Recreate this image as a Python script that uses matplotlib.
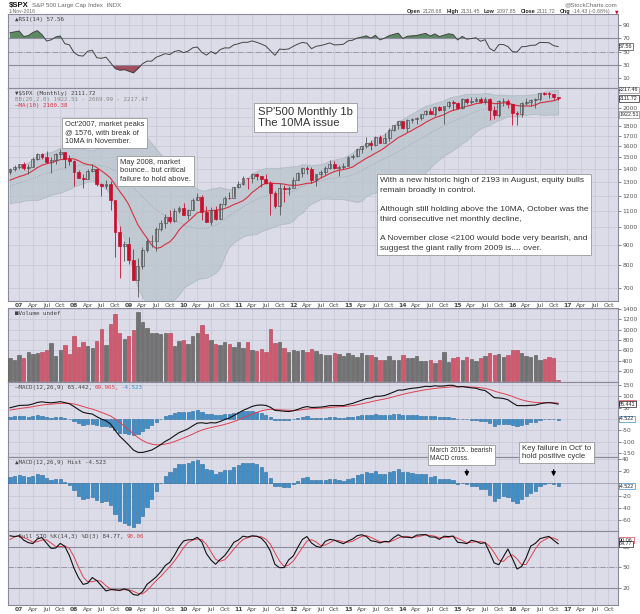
import numpy as np
import pandas as pd
import matplotlib
matplotlib.use('Agg')
from matplotlib import pyplot as plt
from matplotlib.ticker import NullLocator
from matplotlib.transforms import blended_transform_factory

# monthly S&P 500 closes, Jan 2004 .. Nov 2016 (2004-Oct 2006 only warm up the indicators)
closes = [
    1131.13, 1144.94, 1126.21, 1107.30, 1120.68, 1140.84, 1101.72, 1104.24, 1114.58, 1130.20, 1173.82, 1211.92,
    1181.27, 1203.60, 1180.59, 1156.85, 1191.50, 1191.33, 1234.18, 1220.33, 1228.81, 1207.01, 1249.48, 1248.29,
    1280.08, 1280.66, 1294.83, 1310.61, 1270.09, 1270.20, 1276.66, 1303.82, 1335.85, 1377.94, 1400.63, 1418.30,
    1438.24, 1406.82, 1420.86, 1482.37, 1530.62, 1503.35, 1455.27, 1473.99, 1526.75, 1549.38, 1481.14, 1468.36,
    1378.55, 1330.63, 1322.70, 1385.59, 1400.38, 1280.00, 1267.38, 1282.83, 1166.36, 968.75, 896.24, 903.25,
    825.88, 735.09, 797.87, 872.81, 919.14, 919.32, 987.48, 1020.62, 1057.08, 1036.19, 1095.63, 1115.10,
    1073.87, 1104.49, 1169.43, 1186.69, 1089.41, 1030.71, 1101.60, 1049.33, 1141.20, 1183.26, 1180.55, 1257.64,
    1286.12, 1327.22, 1325.83, 1363.61, 1345.20, 1320.64, 1292.28, 1218.89, 1131.42, 1253.30, 1246.96, 1257.60,
    1312.41, 1365.68, 1408.47, 1397.91, 1310.33, 1362.16, 1379.32, 1406.58, 1440.67, 1412.16, 1416.18, 1426.19,
    1498.11, 1514.68, 1569.19, 1597.57, 1630.74, 1606.28, 1685.73, 1632.97, 1681.55, 1756.54, 1805.81, 1848.36,
    1782.59, 1859.45, 1872.34, 1883.95, 1923.57, 1960.23, 1930.67, 2003.37, 1972.29, 2018.05, 2067.56, 2058.90,
    1994.99, 2104.50, 2067.89, 2085.51, 2107.39, 2063.11, 2103.84, 1972.18, 1920.03, 2079.36, 2080.41, 2043.94,
    1940.24, 1932.23, 2059.74, 2065.30, 2096.95, 2098.86, 2173.60, 2170.95, 2168.27, 2126.15, 2111.72,
]

# monthly highs / lows, Jan 2005 .. Nov 2016
highs = [
    1217.8, 1212.4, 1229.1, 1191.9, 1199.6, 1219.6, 1245.2, 1245.9, 1237.9, 1233.3, 1270.6, 1275.8,
    1294.9, 1297.6, 1310.9, 1318.2, 1326.7, 1284.0, 1280.4, 1306.7, 1340.3, 1389.5, 1407.9, 1431.8,
    1441.6, 1461.6, 1438.9, 1498.0, 1535.6, 1540.6, 1555.9, 1503.9, 1538.7, 1576.1, 1545.1, 1523.6,
    1471.8, 1396.0, 1359.7, 1397.0, 1440.2, 1404.1, 1292.2, 1313.2, 1303.0, 1167.0, 1007.5, 918.9,
    943.9, 877.9, 833.0, 888.7, 930.2, 956.2, 996.7, 1039.5, 1080.1, 1101.4, 1113.7, 1130.4,
    1150.5, 1112.4, 1180.7, 1219.8, 1205.1, 1131.2, 1120.0, 1129.2, 1148.9, 1196.1, 1227.1, 1262.6,
    1302.7, 1344.1, 1332.3, 1364.6, 1370.6, 1347.0, 1356.5, 1307.4, 1229.3, 1292.7, 1277.6, 1269.4,
    1333.5, 1378.0, 1419.2, 1422.4, 1415.3, 1363.5, 1391.7, 1426.7, 1474.5, 1471.0, 1434.3, 1448.0,
    1509.9, 1530.9, 1570.3, 1597.6, 1687.2, 1654.2, 1698.8, 1709.7, 1729.9, 1775.2, 1813.6, 1849.4,
    1850.8, 1867.9, 1884.0, 1897.3, 1924.0, 1968.2, 1991.4, 2005.0, 2019.3, 2018.2, 2075.8, 2093.6,
    2064.4, 2119.6, 2114.0, 2125.9, 2134.7, 2129.9, 2132.8, 2112.7, 2020.9, 2094.3, 2116.5, 2104.3,
    2038.2, 1963.0, 2072.2, 2111.1, 2103.5, 2120.6, 2177.1, 2193.8, 2187.9, 2169.6, 2131.45,
]
lows = [
    1163.8, 1180.5, 1176.9, 1136.2, 1146.2, 1188.3, 1183.6, 1201.1, 1201.1, 1168.2, 1201.1, 1246.6,
    1245.7, 1253.6, 1268.0, 1290.9, 1245.3, 1219.3, 1224.5, 1261.3, 1290.9, 1327.1, 1361.0, 1387.5,
    1404.0, 1389.4, 1364.0, 1416.4, 1476.7, 1484.2, 1454.3, 1370.6, 1439.3, 1489.6, 1406.1, 1435.7,
    1270.1, 1325.4, 1257.0, 1324.4, 1373.1, 1272.0, 1200.4, 1247.5, 1106.4, 839.8, 741.0, 818.4,
    804.3, 734.5, 666.8, 783.3, 866.1, 888.9, 869.3, 978.5, 992.3, 1020.2, 1029.4, 1085.9,
    1071.6, 1044.5, 1101.0, 1170.7, 1040.8, 1028.3, 1010.9, 1039.7, 1048.1, 1131.9, 1173.0, 1186.6,
    1257.6, 1275.9, 1249.1, 1294.7, 1311.8, 1258.1, 1282.9, 1074.8, 1114.2, 1074.8, 1158.7, 1202.4,
    1258.9, 1312.3, 1340.0, 1357.4, 1292.0, 1266.7, 1325.4, 1354.7, 1396.6, 1403.3, 1343.4, 1398.1,
    1426.2, 1485.0, 1501.5, 1536.0, 1581.3, 1560.3, 1604.6, 1627.5, 1633.4, 1646.5, 1746.2, 1768.0,
    1770.5, 1737.9, 1834.4, 1814.4, 1859.8, 1916.0, 1930.7, 1904.8, 1964.0, 1820.7, 2001.0, 1972.6,
    1988.1, 1980.9, 2039.7, 2048.4, 2067.9, 2056.3, 2044.0, 1867.0, 1871.9, 1893.7, 2019.4, 1993.3,
    1812.3, 1810.1, 1891.0, 2033.8, 2025.9, 1991.7, 2074.0, 2147.6, 2119.1, 2097.1, 2097.85,
]

# monthly volume, Nov 2006 .. Nov 2016
volumes = [
    450, 420, 515, 445, 565, 527, 546, 560, 603, 743, 483, 610, 711, 527, 876, 667, 756, 686, 654, 775,
    1003, 705, 1105, 1295, 927, 819, 876, 990, 1340, 1143, 1035, 927, 927, 920, 927, 927, 692, 781, 800, 730,
    876, 927, 1086, 914, 800, 730, 705, 756, 717, 673, 756, 654, 762, 610, 590, 622, 565, 1003, 749, 756,
    641, 560, 603, 590, 603, 560, 629, 590, 533, 502, 502, 546, 527, 483, 552, 508, 463, 546, 514, 508,
    463, 419, 419, 495, 406, 406, 508, 457, 457, 483, 387, 387, 419, 349, 413, 571, 368, 457, 463, 419,
    476, 438, 400, 451, 495, 546, 508, 533, 463, 514, 610, 603, 540, 483, 463, 508, 419, 432, 463, 445,
    20,
]

W, H = 640, 614
L, R = 8, 618
BG = '#dcdce8'
GRID = '#c6c6d6'
RED = '#c8102e'
DARK = '#555555'
XMIN, XMAX = -0.44, 133.1
MONTHS = {0: None, 3: 'Apr', 6: 'Jul', 9: 'Oct'}
SANS = ['Liberation Sans', 'DejaVu Sans']

c_all = pd.Series(closes, dtype=float)
h_all = pd.Series([np.nan] * 12 + highs, dtype=float)
l_all = pd.Series([np.nan] * 12 + lows, dtype=float)
o_all = c_all.shift(1)

# indicators
ma10 = c_all.rolling(10).mean()
bb_mid = c_all.rolling(20).mean()
bb_sd = c_all.rolling(20).std(ddof=0)
bb_up = bb_mid + 2 * bb_sd
bb_lo = bb_mid - 2 * bb_sd

delta = c_all.diff()
gain = delta.clip(lower=0).ewm(alpha=1 / 14, adjust=False).mean()
loss = (-delta.clip(upper=0)).ewm(alpha=1 / 14, adjust=False).mean()
rsi = 100 - 100 / (1 + gain / loss)

macd = c_all.ewm(span=12, adjust=False).mean() - c_all.ewm(span=26, adjust=False).mean()
signal = macd.ewm(span=9, adjust=False).mean()
hist = macd - signal

hh = h_all.rolling(14).max()
ll = l_all.rolling(14).min()
fast_k = 100 * (c_all - ll) / (hh - ll)
sto_k = fast_k.rolling(3).mean()
sto_d = sto_k.rolling(3).mean()

start = 34  # Nov 2006
def cut(s):
    return s.iloc[start:].to_numpy()

c, o, hi, lo = cut(c_all), cut(o_all), cut(h_all), cut(l_all)
x = np.arange(len(c))
vol = np.array(volumes, dtype=float)
down = c < o  # open is the prior close, so this is also "down on the month"
cols = np.where(down, RED, DARK)

qpos = [2 + k for k in range(0, 132, 3)]
qlab = [f"{7 + k // 12:02d}" if k % 12 == 0 else MONTHS[k % 12] for k in range(0, 132, 3)]

fig = plt.figure(figsize=(6.4, 6.14), dpi=100)
fig.canvas.draw()
renderer = fig.canvas.get_renderer()


def panel(top, bottom):
    ax = fig.add_axes([L / W, 1 - bottom / H, (R - L) / W, (bottom - top) / H])
    ax.set_facecolor(BG)
    ax.set_xlim(XMIN, XMAX)
    ax.set_xticks(qpos)
    ax.tick_params(axis='x', length=0, labelbottom=False)
    ax.yaxis.tick_right()
    ax.tick_params(axis='y', labelsize=4.3, colors='#555555', length=2, width=0.5, pad=1)
    ax.grid(True, color=GRID, lw=0.5)
    ax.set_axisbelow(True)
    for sp in ax.spines.values():
        sp.set_color('#8a8a9a')
        sp.set_linewidth(0.8)
    return ax


def set_yticks(ax, ticks, hidden=()):
    # labels sitting under a value box are left blank, as on the original
    ax.set_yticks(ticks)
    ax.set_yticklabels(['' if t in hidden else str(t) for t in ticks])


def date_labels(ax):
    ax.set_xticklabels(qlab)
    ax.tick_params(axis='x', labelbottom=True, labelsize=4.3, pad=1.2, colors='#444444')
    for t in ax.get_xticklabels():
        if t.get_text().isdigit():
            t.set_fontweight('bold')


def title(ax, parts, y=0.965):
    xx = 0.012
    for s, col in parts:
        t = ax.text(xx, y, s, transform=ax.transAxes, fontsize=4.2, color=col,
                    family=['DejaVu Sans Mono', 'DejaVu Sans'], va='top', ha='left')
        bb = t.get_window_extent(renderer).transformed(ax.transAxes.inverted())
        xx = bb.x1 + 0.004


def value_box(ax, y, s, ec):
    tr = blended_transform_factory(ax.transAxes, ax.transData)
    ax.text(1.002, y, s, transform=tr, fontsize=3.9, family=SANS, va='center', ha='left',
            color='#222222', bbox=dict(boxstyle='square,pad=0.12', fc='white', ec=ec, lw=0.5),
            clip_on=False, zorder=6)


# RSI
ax_rsi = panel(14, 88)
ax_rsi.set_ylim(-4.6, 106.5)
set_yticks(ax_rsi, [10, 30, 50, 70, 90])
r = cut(rsi)
ax_rsi.axhline(70, color='#8c8c9c', lw=0.8)
ax_rsi.axhline(30, color='#8c8c9c', lw=0.8)
ax_rsi.axhline(50, color='#8c8c9c', lw=0.6, ls='-.')
ax_rsi.fill_between(x, r, 70, where=r >= 70, interpolate=True, color='#5b8a62', lw=0)
ax_rsi.fill_between(x, r, 30, where=r <= 30, interpolate=True, color='#a0505e', lw=0)
ax_rsi.plot(x, r, color='#444444', lw=0.7)
title(ax_rsi, [('\u25b2RSI(14) 57.56', '#444444')])
value_box(ax_rsi, r[-1], f'{r[-1]:.2f}', '#444444')

# price
ax_p = panel(88, 301)
ax_p.set_yscale('log')
ax_p.set_ylim(650, 2243)
set_yticks(ax_p, list(range(700, 2100, 100)), hidden=(1900,))
ax_p.yaxis.set_minor_locator(NullLocator())
up_b, lo_b, mid_b = cut(bb_up), cut(bb_lo), cut(bb_mid)
ax_p.fill_between(x, lo_b, up_b, color='#b9c3cb', alpha=0.75, lw=0.6, edgecolor='#a9b4bd', zorder=1)
ax_p.plot(x, mid_b, color='#9aa4ae', lw=0.6, ls=':', zorder=2)
ax_p.plot(x, cut(ma10), color='#d9303e', lw=0.8, zorder=3)
ax_p.vlines(x, lo, hi, colors=cols, lw=0.6, zorder=4)
body_lo = np.minimum(o, c)
body_h = np.maximum(np.abs(c - o), c * 0.002)
ax_p.bar(x, body_h, bottom=body_lo, width=0.62, color=np.where(down, cols, 'none'),
         edgecolor=cols, lw=0.5, zorder=5)
date_labels(ax_p)
title(ax_p, [('\u25bc\\$SPX (Monthly) 2111.72', '#444444')], y=0.988)
title(ax_p, [('BB(20,2.0) 1922.51 - 2069.99 - 2217.47', '#8a8a8a')], y=0.958)
title(ax_p, [('\u2014MA(10) 2100.38', '#d9303e')], y=0.928)
value_box(ax_p, up_b[-1], f'{up_b[-1]:.2f}', '#888888')
value_box(ax_p, c[-1], f'{c[-1]:.2f}', '#222222')
value_box(ax_p, lo_b[-1], f'{lo_b[-1]:.2f}', '#888888')

# volume
ax_v = panel(308, 382)
ax_v.set_ylim(-13, 1419)
set_yticks(ax_v, list(range(200, 1600, 200)))
ax_v.bar(x, vol, width=0.74, color=np.where(down, '#d2596d', '#727272'),
         edgecolor=np.where(down, '#b23a50', '#555555'), lw=0.4, zorder=3)
title(ax_v, [('\u25a0Volume undef', '#444444')])

# MACD
ax_m = panel(382, 457)
ax_m.set_ylim(-168, 163)
set_yticks(ax_m, [-150, -100, -50, 0, 50, 100, 150], hidden=(0,))
m, sg, hs = cut(macd), cut(signal), cut(hist)
ax_m.bar(x, hs, width=0.72, color='#3d8ec9', edgecolor='#2a6a9a', lw=0.4, zorder=3)
ax_m.plot(x, sg, color='#e0404e', lw=0.7, zorder=4)
ax_m.plot(x, m, color='#111111', lw=0.8, zorder=5)
title(ax_m, [('\u2014MACD(12,26,9) 65.442,', '#444444'), ('69.965,', '#e0404e'), ('-4.523', '#3d8ec9')])
value_box(ax_m, sg[-1], f'{sg[-1]:.3f}', '#e0404e')
value_box(ax_m, m[-1], f'{m[-1]:.3f}', '#222222')
value_box(ax_m, 0, f'{hs[-1]:.3f}', '#3d8ec9')

# MACD histogram
ax_h = panel(457, 531)
ax_h.set_ylim(-78, 43.3)
set_yticks(ax_h, [-60, -40, -20, 0, 20, 40], hidden=(0,))
ax_h.axhline(0, color='#9a9aaa', lw=0.5, zorder=2)
ax_h.bar(x, hs, width=0.72, color='#3d8ec9', edgecolor='#2a6a9a', lw=0.4, zorder=3)
title(ax_h, [('\u25b2MACD(12,26,9) Hist -4.523', '#444444')])
value_box(ax_h, hs[-1], f'{hs[-1]:.3f}', '#3d8ec9')

# full stochastics
ax_s = panel(531, 605)
ax_s.set_ylim(-4.9, 103.4)
set_yticks(ax_s, [20, 50, 80])
ax_s.axhline(80, color='#8c8c9c', lw=0.8)
ax_s.axhline(20, color='#8c8c9c', lw=0.8)
ax_s.axhline(50, color='#8c8c9c', lw=0.6, ls='-.')
k, d = cut(sto_k), cut(sto_d)
ax_s.plot(x, d, color='#e0404e', lw=0.7, zorder=4)
ax_s.plot(x, k, color='#111111', lw=0.8, zorder=5)
date_labels(ax_s)
title(ax_s, [('\u2014Full STO %K(14,3) %D(3) 84.77,', '#444444'), ('90.06', '#e0404e')])
value_box(ax_s, d[-1], f'{d[-1]:.2f}', '#e0404e')
value_box(ax_s, k[-1], f'{k[-1]:.2f}', '#222222')


# header
def ftext(px, py, s, **kw):
    kw.setdefault('va', 'center')
    return fig.text(px / W, 1 - py / H, s, **kw)


sym = ftext(9, 5, '\\$SPX', fontsize=5.6, fontweight='bold', color='#111111', family=SANS)
ftext(9 + sym.get_window_extent(renderer).width + 3, 5, 'S&P 500 Large Cap Index  INDX',
      fontsize=4.4, color='#666666', family=SANS)
ftext(9, 11.5, '1-Nov-2016', fontsize=3.7, color='#666666', family=SANS)
ftext(617, 4.5, '@StockCharts.com', fontsize=4.4, color='#666666', ha='right', family=SANS)
hdr = [('Open', True), ('2128.68', False), ('High', True), ('2131.45', False),
       ('Low', True), ('2097.85', False), ('Close', True), ('2111.72', False),
       ('Chg', True), ('-14.43 (-0.68%)', False)]
px = 407
for s, bold in hdr:
    t = ftext(px, 11.5, s, fontsize=3.9, family=SANS, color='#222222' if bold else '#666666',
              fontweight='bold' if bold else 'normal')
    px += t.get_window_extent(renderer).width + (2 if bold else 4)
ftext(px + 1, 11.5, '\u25bc', fontsize=3.3, color=RED)


# notes
def note(px, py, s, size=5.4, ls=1.35):
    fig.text(px / W, 1 - py / H, s, fontsize=size, family=SANS,
             color='#333333', ha='left', va='top', linespacing=ls, zorder=10,
             bbox=dict(boxstyle='square,pad=0.35', fc='white', ec='#999999', lw=0.6))


note(65, 121, "Oct'2007, market peaks\n@ 1576, with break of\n10MA in November.", ls=1.3)
note(120, 159, "May 2008, market\nbounce.. but critical\nfailure to hold above.", ls=1.3)
note(258, 107, "SP'500 Monthly 1b\nThe 10MA issue", size=8.2, ls=1.15)
note(380, 177, "With a new historic high of 2193 in August, equity bulls\nremain broadly in control.\n\n"
     "Although still holding above the 10MA, October was the\nthird consecutive net monthly decline,\n\n"
     "A November close <2100 would bode very bearish, and\nsuggest the giant rally from 2009 is.... over.",
     size=6.0, ls=1.55)
note(430, 447, "March 2015.. bearish\nMACD cross.", size=4.8, ls=1.3)
note(522, 445, "Key failure in Oct' to\nhold positive cycle", size=5.6, ls=1.25)

for idx in (100, 119):
    ax_h.annotate('', xy=(idx, 7), xycoords='data', xytext=(idx, H - 467),
                  textcoords=('data', 'figure pixels'), annotation_clip=False,
                  arrowprops=dict(arrowstyle='-|>', color='black', lw=0.9, mutation_scale=6))

fig.savefig('out.png', dpi=100, facecolor='white')
